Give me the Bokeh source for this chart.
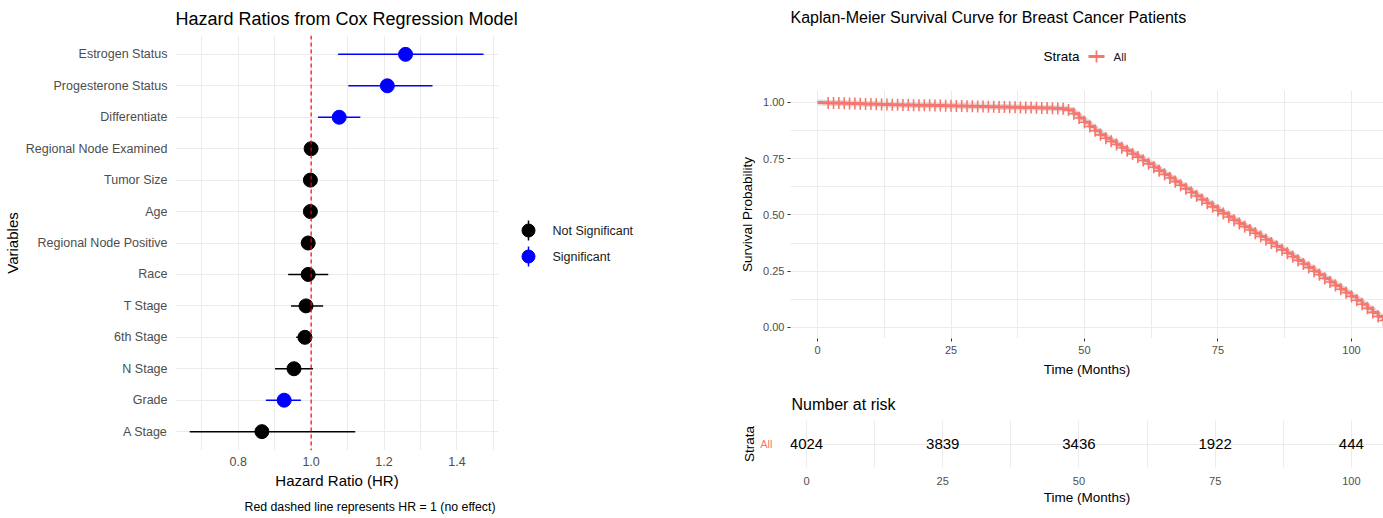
from bokeh.plotting import figure
from bokeh.layouts import row, column
from bokeh.models import (Range1d, FixedTicker, Span, ColumnDataSource,
                          NumeralTickFormatter)
from bokeh.core.properties import value
from bokeh.embed import file_html
from bokeh.resources import INLINE

FONT = "Liberation Sans"
GRID = "#EBEBEB"
TICK_TXT = "#4D4D4D"
KM_RED = "#F8766D"

# ------------------------------------------------------------------ data
variables = ["Estrogen Status", "Progesterone Status", "Differentiate",
             "Regional Node Examined", "Tumor Size", "Age",
             "Regional Node Positive", "Race", "T Stage", "6th Stage",
             "N Stage", "Grade", "A Stage"]
hr = [1.259, 1.209, 1.077, 1.000, 0.998, 0.998, 0.992, 0.992, 0.986, 0.983,
      0.953, 0.926, 0.865]
hr_lower = [1.074, 1.102, 1.019, 0.995, 0.994, 0.995, 0.987, 0.937, 0.945,
            0.959, 0.901, 0.876, 0.667]
hr_upper = [1.473, 1.333, 1.135, 1.005, 1.002, 1.001, 0.997, 1.047, 1.033,
            1.003, 1.005, 0.972, 1.121]
significance = ["Significant", "Significant", "Significant", "Not Significant",
                "Not Significant", "Not Significant", "Not Significant",
                "Not Significant", "Not Significant", "Not Significant",
                "Not Significant", "Significant", "Not Significant"]
legend_levels = ["Not Significant", "Significant"]
level_colors = {"Not Significant": "#000000", "Significant": "#0000FF"}
hr_ticks = [0.8, 1.0, 1.2, 1.4]
hr_minor = [0.7, 0.9, 1.1, 1.3, 1.5]

km_times = [0, 1, 2, 3, 4, 5, 6, 7, 8, 9, 10, 11, 12, 13, 14, 15, 16, 17, 18,
            19, 20, 21, 22, 23, 24, 25, 26, 27, 28, 29, 30, 31, 32, 33, 34, 35,
            36, 37, 38, 39, 40, 41, 42, 43, 44, 45, 46, 47, 48, 49, 50, 51, 52,
            53, 54, 55, 56, 57, 58, 59, 60, 61, 62, 63, 64, 65, 66, 67, 68, 69,
            70, 71, 72, 73, 74, 75, 76, 77, 78, 79, 80, 81, 82, 83, 84, 85, 86,
            87, 88, 89, 90, 91, 92, 93, 94, 95, 96, 97, 98, 99, 100, 101, 102,
            103, 104, 105, 106]
km_surv = [1.000, 0.999, 0.998, 0.998, 0.997, 0.996, 0.995, 0.995, 0.994,
           0.993, 0.993, 0.992, 0.991, 0.991, 0.990, 0.990, 0.989, 0.989,
           0.988, 0.988, 0.987, 0.987, 0.986, 0.986, 0.985, 0.985, 0.984,
           0.984, 0.983, 0.983, 0.982, 0.982, 0.981, 0.981, 0.980, 0.980,
           0.979, 0.979, 0.978, 0.977, 0.977, 0.976, 0.975, 0.975, 0.974,
           0.973, 0.972, 0.966, 0.950, 0.931, 0.912, 0.893, 0.874, 0.856,
           0.841, 0.827, 0.813, 0.799, 0.785, 0.771, 0.757, 0.742, 0.727,
           0.712, 0.696, 0.680, 0.664, 0.648, 0.632, 0.616, 0.600, 0.584,
           0.568, 0.552, 0.536, 0.520, 0.506, 0.491, 0.477, 0.462, 0.448,
           0.433, 0.419, 0.404, 0.390, 0.375, 0.360, 0.345, 0.330, 0.314,
           0.298, 0.282, 0.266, 0.250, 0.234, 0.218, 0.202, 0.186, 0.170,
           0.154, 0.138, 0.121, 0.103, 0.085, 0.067, 0.049, 0.031]
censor_times = km_times[2:]
censor_surv = km_surv[2:]
strata = "All"
surv_ticks = [0.0, 0.25, 0.5, 0.75, 1.0]
surv_minor = [0.125, 0.375, 0.625, 0.875]
time_ticks = [0, 25, 50, 75, 100]
time_minor = [12.5, 37.5, 62.5, 87.5]
risk_times = [0, 25, 50, 75, 100]
risk_counts = [4024, 3839, 3436, 1922, 444]


def style_axes(p, tick_len=0):
    for ax in (p.xaxis, p.yaxis):
        ax.axis_line_color = None
        ax.major_tick_in = 0
        ax.major_tick_out = tick_len
        ax.major_tick_line_color = "#333333" if tick_len else None
        ax.minor_tick_line_color = None
        ax.minor_tick_out = 0
        ax.minor_tick_in = 0
        ax.major_label_text_font = FONT
        ax.major_label_text_color = TICK_TXT
        ax.axis_label_text_font = FONT
        ax.axis_label_text_font_style = "normal"
        ax.axis_label_text_color = "#000000"
    p.outline_line_color = None


def blank(width, height, x0, x1, y_top, y_bottom, **borders):
    """A plain panel whose data units are pixels, for titles and keys."""
    p = figure(width=width, height=height, x_range=Range1d(x0, x1),
               y_range=Range1d(y_bottom, y_top), output_backend="svg",
               toolbar_location=None, x_axis_location=None,
               y_axis_location=None, min_border=0, **borders)
    p.grid.visible = False
    p.outline_line_color = None
    return p


def put_text(p, x, y, txt, size, color="#000000", align="left"):
    p.text(x=[x], y=[y], text=[txt], text_font=value(FONT),
           text_font_size=value(size), text_align=align,
           text_baseline="middle", text_color=color)


# ------------------------------------------------------------ forest plot
n = len(variables)
ypos = [n - i for i in range(n)]
fsrc = ColumnDataSource(dict(y=ypos, hr=hr, lo=hr_lower, hi=hr_upper,
                             color=[level_colors[s] for s in significance]))

head_l = blank(700, 35, 0, 700, 0, 35)
put_text(head_l, 175, 18, "Hazard Ratios from Cox Regression Model", "18px")

p1 = figure(width=508, height=460, x_range=Range1d(0.628, 1.514),
            y_range=Range1d(0.4, n + 0.6), output_backend="svg",
            toolbar_location=None, min_border_left=175, min_border_right=10,
            min_border_top=0, min_border_bottom=45)
style_axes(p1)
xt = FixedTicker(ticks=hr_ticks, minor_ticks=hr_minor)
p1.xaxis.ticker = xt
p1.xaxis.formatter = NumeralTickFormatter(format="0.0")
p1.xgrid.ticker = xt
p1.xgrid.grid_line_color = GRID
p1.xgrid.minor_grid_line_color = GRID
p1.yaxis.ticker = FixedTicker(ticks=ypos)
p1.yaxis.major_label_overrides = {y: v for y, v in zip(ypos, variables)}
p1.ygrid.grid_line_color = GRID
p1.xaxis.major_label_text_font_size = "12.5px"
p1.yaxis.major_label_text_font_size = "12.5px"
p1.xaxis.major_label_standoff = 6
p1.yaxis.major_label_standoff = 8
p1.xaxis.axis_label = "Hazard Ratio (HR)"
p1.xaxis.axis_label_text_font_size = "15px"
p1.xaxis.axis_label_standoff = 3
p1.yaxis.axis_label = "Variables"
p1.yaxis.axis_label_text_font_size = "15px"
p1.yaxis.axis_label_standoff = 2

p1.segment(x0="lo", y0="y", x1="hi", y1="y", line_color="color",
           line_width=1.5, source=fsrc)
p1.scatter(x="hr", y="y", size=14, fill_color="color", line_color="color",
           source=fsrc)
p1.add_layout(Span(location=1.0, dimension="height", line_color="#FF0000",
                   line_dash="4 3", line_width=1.2))

# legend panel (frame aligned with the forest frame: 415 px tall)
p2 = figure(width=192, height=460, x_range=Range1d(0, 192),
            y_range=Range1d(415, 0), output_backend="svg",
            toolbar_location=None, min_border_left=0, min_border_right=0,
            min_border_top=0, min_border_bottom=45, x_axis_location=None,
            y_axis_location=None)
p2.grid.visible = False
p2.outline_line_color = None
key_x = 20
key_y = [195 + 26 * i for i in range(len(legend_levels))]
key_c = [level_colors[l] for l in legend_levels]
p2.segment(x0=[key_x] * len(key_y), y0=[y - 10 for y in key_y],
           x1=[key_x] * len(key_y), y1=[y + 10 for y in key_y],
           line_color=key_c, line_width=1.5)
p2.scatter(x=[key_x] * len(key_y), y=key_y, size=13, fill_color=key_c,
           line_color=key_c)
p2.text(x=[key_x + 24] * len(key_y), y=key_y, text=legend_levels,
        text_font=value(FONT), text_font_size=value("12.5px"),
        text_baseline="middle", text_color="#1A1A1A")

foot_l = blank(700, 23, 0, 700, 0, 23)
put_text(foot_l, 495, 11, "Red dashed line represents HR = 1 (no effect)",
         "12.3px", align="right")

left_block = column(head_l, row(p1, p2), foot_l)

# ------------------------------------------------------------ KM curve
head_r = blank(683, 90, 790, 1383, 0, 90, min_border_left=90)
put_text(head_r, 790, 17,
         "Kaplan-Meier Survival Curve for Breast Cancer Patients", "16px")
put_text(head_r, 1043, 56, "Strata", "13.5px")
head_r.segment(x0=[1088], y0=[56], x1=[1104], y1=[56], line_color=KM_RED,
               line_width=3)
head_r.scatter(x=[1096], y=[56], marker="cross", size=12, line_color=KM_RED,
               line_width=1.8)
put_text(head_r, 1113, 56, strata, "11.5px", color="#1A1A1A")

p3 = figure(width=683, height=295, x_range=Range1d(-5.06, 106.0),
            y_range=Range1d(-0.049, 1.053), output_backend="svg",
            toolbar_location=None, min_border_left=90, min_border_right=0,
            min_border_top=0, min_border_bottom=47)
style_axes(p3, tick_len=3)
kx = FixedTicker(ticks=time_ticks, minor_ticks=time_minor)
ky = FixedTicker(ticks=surv_ticks, minor_ticks=surv_minor)
p3.xaxis.ticker = kx
p3.xgrid.ticker = kx
p3.yaxis.ticker = ky
p3.ygrid.ticker = ky
for g in (p3.xgrid, p3.ygrid):
    g.grid_line_color = GRID
    g.minor_grid_line_color = GRID
p3.yaxis.formatter = NumeralTickFormatter(format="0.00")
p3.xaxis.major_label_text_font_size = "11px"
p3.yaxis.major_label_text_font_size = "11px"
p3.xaxis.major_label_standoff = 4
p3.yaxis.major_label_standoff = 3
p3.xaxis.axis_label = "Time (Months)"
p3.yaxis.axis_label = "Survival Probability"
p3.xaxis.axis_label_text_font_size = "13.5px"
p3.yaxis.axis_label_text_font_size = "13.5px"
p3.xaxis.axis_label_standoff = 5
p3.yaxis.axis_label_standoff = 5

p3.step(km_times, km_surv, mode="after", line_color="#DCDCDC", line_width=6)
p3.step(km_times, km_surv, mode="after", line_color=KM_RED, line_width=3)
p3.scatter(censor_times, censor_surv, marker="cross", size=12,
           line_color=KM_RED, line_width=1.6)

# ------------------------------------------------------- risk table
head_r2 = blank(683, 35, 790, 1383, 0, 35, min_border_left=90)
put_text(head_r2, 791, 19, "Number at risk", "16px")

p4 = figure(width=683, height=98, x_range=Range1d(-2.94, 105.9),
            y_range=Range1d(0.5, 1.5), output_backend="svg",
            toolbar_location=None, min_border_left=90, min_border_right=0,
            min_border_top=0, min_border_bottom=51)
style_axes(p4)
p4.xaxis.ticker = kx
p4.xgrid.ticker = kx
p4.xgrid.grid_line_color = GRID
p4.xgrid.minor_grid_line_color = GRID
p4.yaxis.ticker = FixedTicker(ticks=[1])
p4.yaxis.major_label_overrides = {1: strata}
p4.yaxis.major_label_text_color = KM_RED
p4.yaxis.major_label_text_font_size = "11px"
p4.yaxis.major_label_standoff = 18
p4.ygrid.grid_line_color = GRID
p4.xaxis.major_label_text_font_size = "11px"
p4.xaxis.major_label_standoff = 9
p4.xaxis.axis_label = "Time (Months)"
p4.xaxis.axis_label_text_font_size = "13.5px"
p4.xaxis.axis_label_standoff = 2
p4.yaxis.axis_label = "Strata"
p4.yaxis.axis_label_text_font_size = "13.5px"
p4.yaxis.axis_label_standoff = 0
p4.text(x=risk_times, y=[1] * len(risk_times),
        text=[str(c) for c in risk_counts], text_font=value(FONT),
        text_font_size=value("15px"), text_align="center",
        text_baseline="middle", text_color="#000000")

right_block = column(head_r, p3, head_r2, p4)

layout = row(left_block, right_block)
open("out.html", "w").write(file_html(layout, INLINE))
